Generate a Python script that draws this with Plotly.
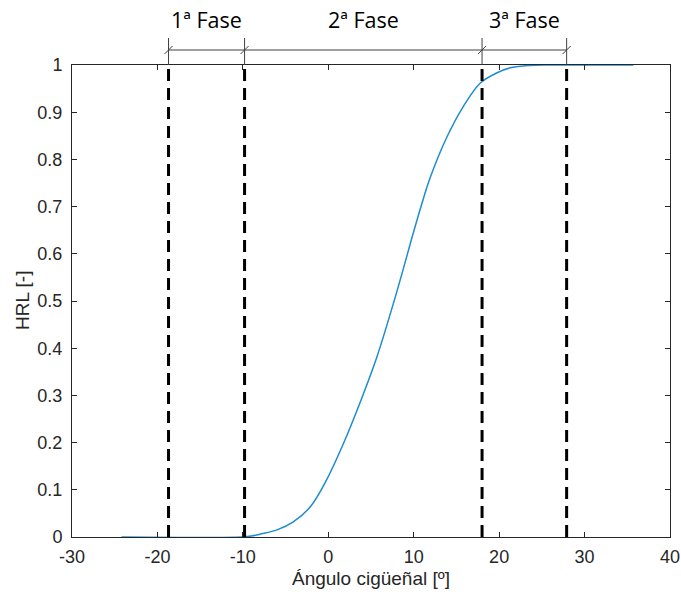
import plotly.graph_objects as go

# Heat-release fraction (HRL) vs crank angle
crank_angle = [-24.2, -10.0, -9.0, -8.0, -6.0, -4.1, -2.1, -0.2, 1.8, 3.7,
               5.7, 7.9, 9.95, 10.9, 11.9, 13.9, 15.8, 17.8, 19.7, 21.3, 23.5,
               26.0, 30.0, 35.7]
hrl = [0.0, 0.0, 0.002, 0.006, 0.015, 0.032, 0.064, 0.121, 0.199, 0.284,
       0.382, 0.512, 0.644, 0.703, 0.760, 0.848, 0.912, 0.962, 0.983, 0.994,
       0.999, 1.0, 1.0, 1.0]

# Phase boundaries (crank angle, degrees)
phase_bounds = [-18.7, -9.8, 18.0, 27.9]
phase_names = ["1ª Fase", "2ª Fase", "3ª Fase"]

x_ticks = [-30, -20, -10, 0, 10, 20, 30, 40]
y_ticks = [0, 0.1, 0.2, 0.3, 0.4, 0.5, 0.6, 0.7, 0.8, 0.9, 1]

AX = "#262626"
DIM = "#404040"
SANS = "Liberation Sans, Arial, Helvetica, sans-serif"

W, H = 681, 597
ML, MR, MT, MB = 72, 11, 65, 60
plot_w = W - ML - MR
plot_h = H - MT - MB

fig = go.Figure()

fig.add_trace(go.Scatter(
    x=crank_angle, y=hrl, mode="lines",
    line=dict(color="#1f8bd0", width=1.5, shape="spline", smoothing=1.0),
    hoverinfo="skip", showlegend=False,
))

for xb in phase_bounds:
    fig.add_trace(go.Scatter(
        x=[xb, xb], y=[0, 1], mode="lines",
        line=dict(color="black", width=3, dash="12px,7px"),
        hoverinfo="skip", showlegend=False,
    ))

# Dimension line with extension lines and slash marks above the axes
px_to_x = 70.0 / plot_w
dim_y = 1 + 15 / plot_h
ext_top = 1 + 27 / plot_h
slash = 4

shapes = [dict(type="line", xref="x", yref="paper",
               x0=phase_bounds[0], x1=phase_bounds[-1], y0=dim_y, y1=dim_y,
               line=dict(color=DIM, width=1))]
for xb in phase_bounds:
    shapes.append(dict(type="line", xref="x", yref="paper",
                       x0=xb, x1=xb, y0=1, y1=ext_top,
                       line=dict(color=DIM, width=1)))
    shapes.append(dict(type="line", xref="x", yref="paper",
                       x0=xb - slash * px_to_x, x1=xb + slash * px_to_x,
                       y0=dim_y - slash / plot_h, y1=dim_y + slash / plot_h,
                       line=dict(color=DIM, width=1)))

annotations = []
for i, name in enumerate(phase_names):
    annotations.append(dict(
        x=(phase_bounds[i] + phase_bounds[i + 1]) / 2, y=1 + 46 / plot_h,
        xref="x", yref="paper", text=name, showarrow=False,
        font=dict(family="Open Sans, Noto Sans, sans-serif", size=21.5, color="black"),
        xanchor="center", yanchor="middle",
    ))

# Axis titles
annotations.append(dict(
    x=0.5, y=-41 / plot_h, xref="paper", yref="paper",
    text="Ángulo cigüeñal [º]", showarrow=False,
    font=dict(family=SANS, size=19, color=AX),
    xanchor="center", yanchor="middle",
))
annotations.append(dict(
    x=-50 / plot_w, y=0.5, xref="paper", yref="paper",
    text="HRL [-]", showarrow=False, textangle=-90,
    font=dict(family=SANS, size=19, color=AX),
    xanchor="center", yanchor="middle",
))

axis_common = dict(
    showgrid=False, zeroline=False, showline=True, linecolor=AX, linewidth=1,
    mirror="ticks", ticks="inside", ticklen=5, tickwidth=1, tickcolor=AX,
    automargin=False,
    tickfont=dict(family=SANS, size=18, color=AX),
)

fig.update_layout(
    width=W, height=H, autosize=False,
    margin=dict(l=ML, r=MR, t=MT, b=MB),
    paper_bgcolor="white", plot_bgcolor="white",
    xaxis=dict(range=[-30, 40], tickvals=x_ticks,
               ticktext=[str(v) for v in x_ticks],
               ticklabelstandoff=3, **axis_common),
    yaxis=dict(range=[0, 1], tickvals=y_ticks,
               ticktext=[("%g" % v) for v in y_ticks],
               ticklabelstandoff=5, **axis_common),
    shapes=shapes, annotations=annotations,
)

fig.write_html("out.html")
